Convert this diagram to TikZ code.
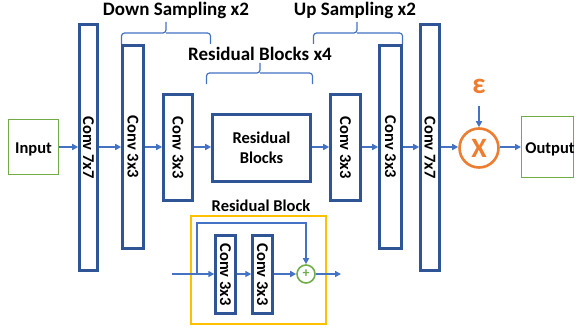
\documentclass[tikz,border=0pt]{standalone}
\usepackage{fontspec}
\setmainfont{Carlito}
\usetikzlibrary{arrows.meta,calc}
\definecolor{dblue}{HTML}{2F5597}
\definecolor{ablue}{HTML}{4472C4}
\definecolor{lgreen}{HTML}{70AD47}
\definecolor{orng}{HTML}{ED7D31}
\definecolor{yellowline}{HTML}{FFC000}
\tikzset{
  convbox/.style={draw=dblue, line width=2.6pt, fill=white, inner sep=0pt, rotate=-90, font=\fontsize{16.5}{18}\selectfont\bfseries},
  iobox/.style={draw=lgreen, line width=1pt, inner sep=0pt},
  arr/.style={draw=ablue, line width=1.6pt, -{Triangle[length=6pt,width=6pt]}},
  bracket/.style={draw=ablue, line width=1.2pt, rounded corners=3pt},
  title/.style={anchor=base, font=\fontsize{19}{21}\selectfont\bfseries},
  subtitle/.style={anchor=base, font=\fontsize{16.5}{18}\selectfont\bfseries}
}
\begin{document}
\begin{tikzpicture}[x=1pt,y=-1pt]
\useasboundingbox (0,0) rectangle (578,329);
% main chain
\node[iobox, minimum width=50pt, minimum height=55pt] (input) at (33.5,147) {};
\node[anchor=base, inner sep=0pt, font=\fontsize{16.5}{18}\selectfont\bfseries] (inputtxt) at (33.5,153) {Input};
\node[convbox, minimum height=18pt, minimum width=246pt] (c1) at (88.5,147.5) {Conv 7x7};
\node[convbox, minimum height=21pt, minimum width=203pt] (c2) at (133,147) {Conv 3x3};
\node[convbox, minimum height=29pt, minimum width=106pt] (c3) at (178,147.5) {Conv 3x3};
\node[draw=dblue, line width=2.6pt, minimum width=98pt, minimum height=67pt, inner sep=0pt, align=center,
      font=\fontsize{16.5}{20}\selectfont\bfseries] (rb) at (261.5,148) {Residual\\Blocks};
\node[convbox, minimum height=30pt, minimum width=106pt] (c4) at (345.5,147.5) {Conv 3x3};
\node[convbox, minimum height=22pt, minimum width=203pt] (c5) at (390.5,147) {Conv 3x3};
\node[convbox, minimum height=19pt, minimum width=246pt] (c6) at (430,147.5) {Conv 7x7};
\node[circle, draw=orng, line width=2.6pt, minimum size=39pt, inner sep=0pt, text=orng,
      font=\fontsize{28}{30}\selectfont\bfseries] (mult) at (479,148) {X};
\node[text=orng, font=\fontsize{29}{30}\selectfont\bfseries, inner sep=0pt] (eps) at (479,86) {ε};
\node[iobox, minimum width=52pt, minimum height=61pt] (output) at (547.5,147) {};
\node[anchor=base, inner sep=0pt, font=\fontsize{16.5}{18}\selectfont\bfseries] (outputtxt) at (550,153) {Output};

\coordinate (lvl) at (0,147);
\draw[arr] (input.east) -- (lvl -| c1.south);
\draw[arr] (c1.north |- lvl) -- (lvl -| c2.south);
\draw[arr] (c2.north |- lvl) -- (lvl -| c3.south);
\draw[arr] (c3.north |- lvl) -- (lvl -| rb.west);
\draw[arr] (rb.east |- lvl) -- (lvl -| c4.south);
\draw[arr] (c4.north |- lvl) -- (lvl -| c5.south);
\draw[arr] (c5.north |- lvl) -- (lvl -| c6.south);
\draw[arr] (c6.north |- lvl) -- (lvl -| mult.west);
\draw[arr] (mult.east |- lvl) -- (lvl -| output.west);
\coordinate (epsb) at (479,106);
\draw[arr] (epsb) -- (mult.north);

% titles and brackets
\node[title] (down) at (176,16) {Down Sampling x2};
\node[title] (up) at (355,16) {Up Sampling x2};
\node[title] (resx) at (260,60) {Residual Blocks x4};
\draw[bracket] (121.5,44) |- (166,33) -- (166,22);
\draw[bracket] (210.5,44) |- (166,33);
\draw[bracket] (206.5,84) |- (260,73) -- (260,63);
\draw[bracket] (312.5,84) |- (260,73);
\draw[bracket] (313.5,44) |- (357,33) -- (357,22);
\draw[bracket] (402.5,44) |- (357,33);

% residual block detail
\node[subtitle] (rlabel) at (261,211) {Residual Block};
\draw[draw=yellowline, line width=1.8pt] (191,216) rectangle (326,324);
\node[convbox, minimum height=20pt, minimum width=78pt, line width=2.4pt] (ra) at (225.5,274.5) {Conv 3x3};
\node[convbox, minimum height=20pt, minimum width=78pt, line width=2.4pt] (rc) at (262.5,274.5) {Conv 3x3};
\node[circle, draw=lgreen, line width=1.6pt, minimum size=18pt, inner sep=0pt, text=lgreen,
      font=\fontsize{14}{14}\selectfont\bfseries] (plus) at (306,274) {+};
\coordinate (rin) at (172,274);
\coordinate (split) at (197,274);
\coordinate (skip) at (306,223);
\coordinate (rout) at (341,274);
\draw[arr] (rin) -- (rin -| ra.south);
\draw[arr] (ra.north |- rin) -- (rin -| rc.south);
\draw[arr] (rc.north |- rin) -- (plus.west);
\draw[arr] (split) |- (skip) -- (plus.north);
\draw[arr] (plus.east) -- (rout);
\end{tikzpicture}
\end{document}
